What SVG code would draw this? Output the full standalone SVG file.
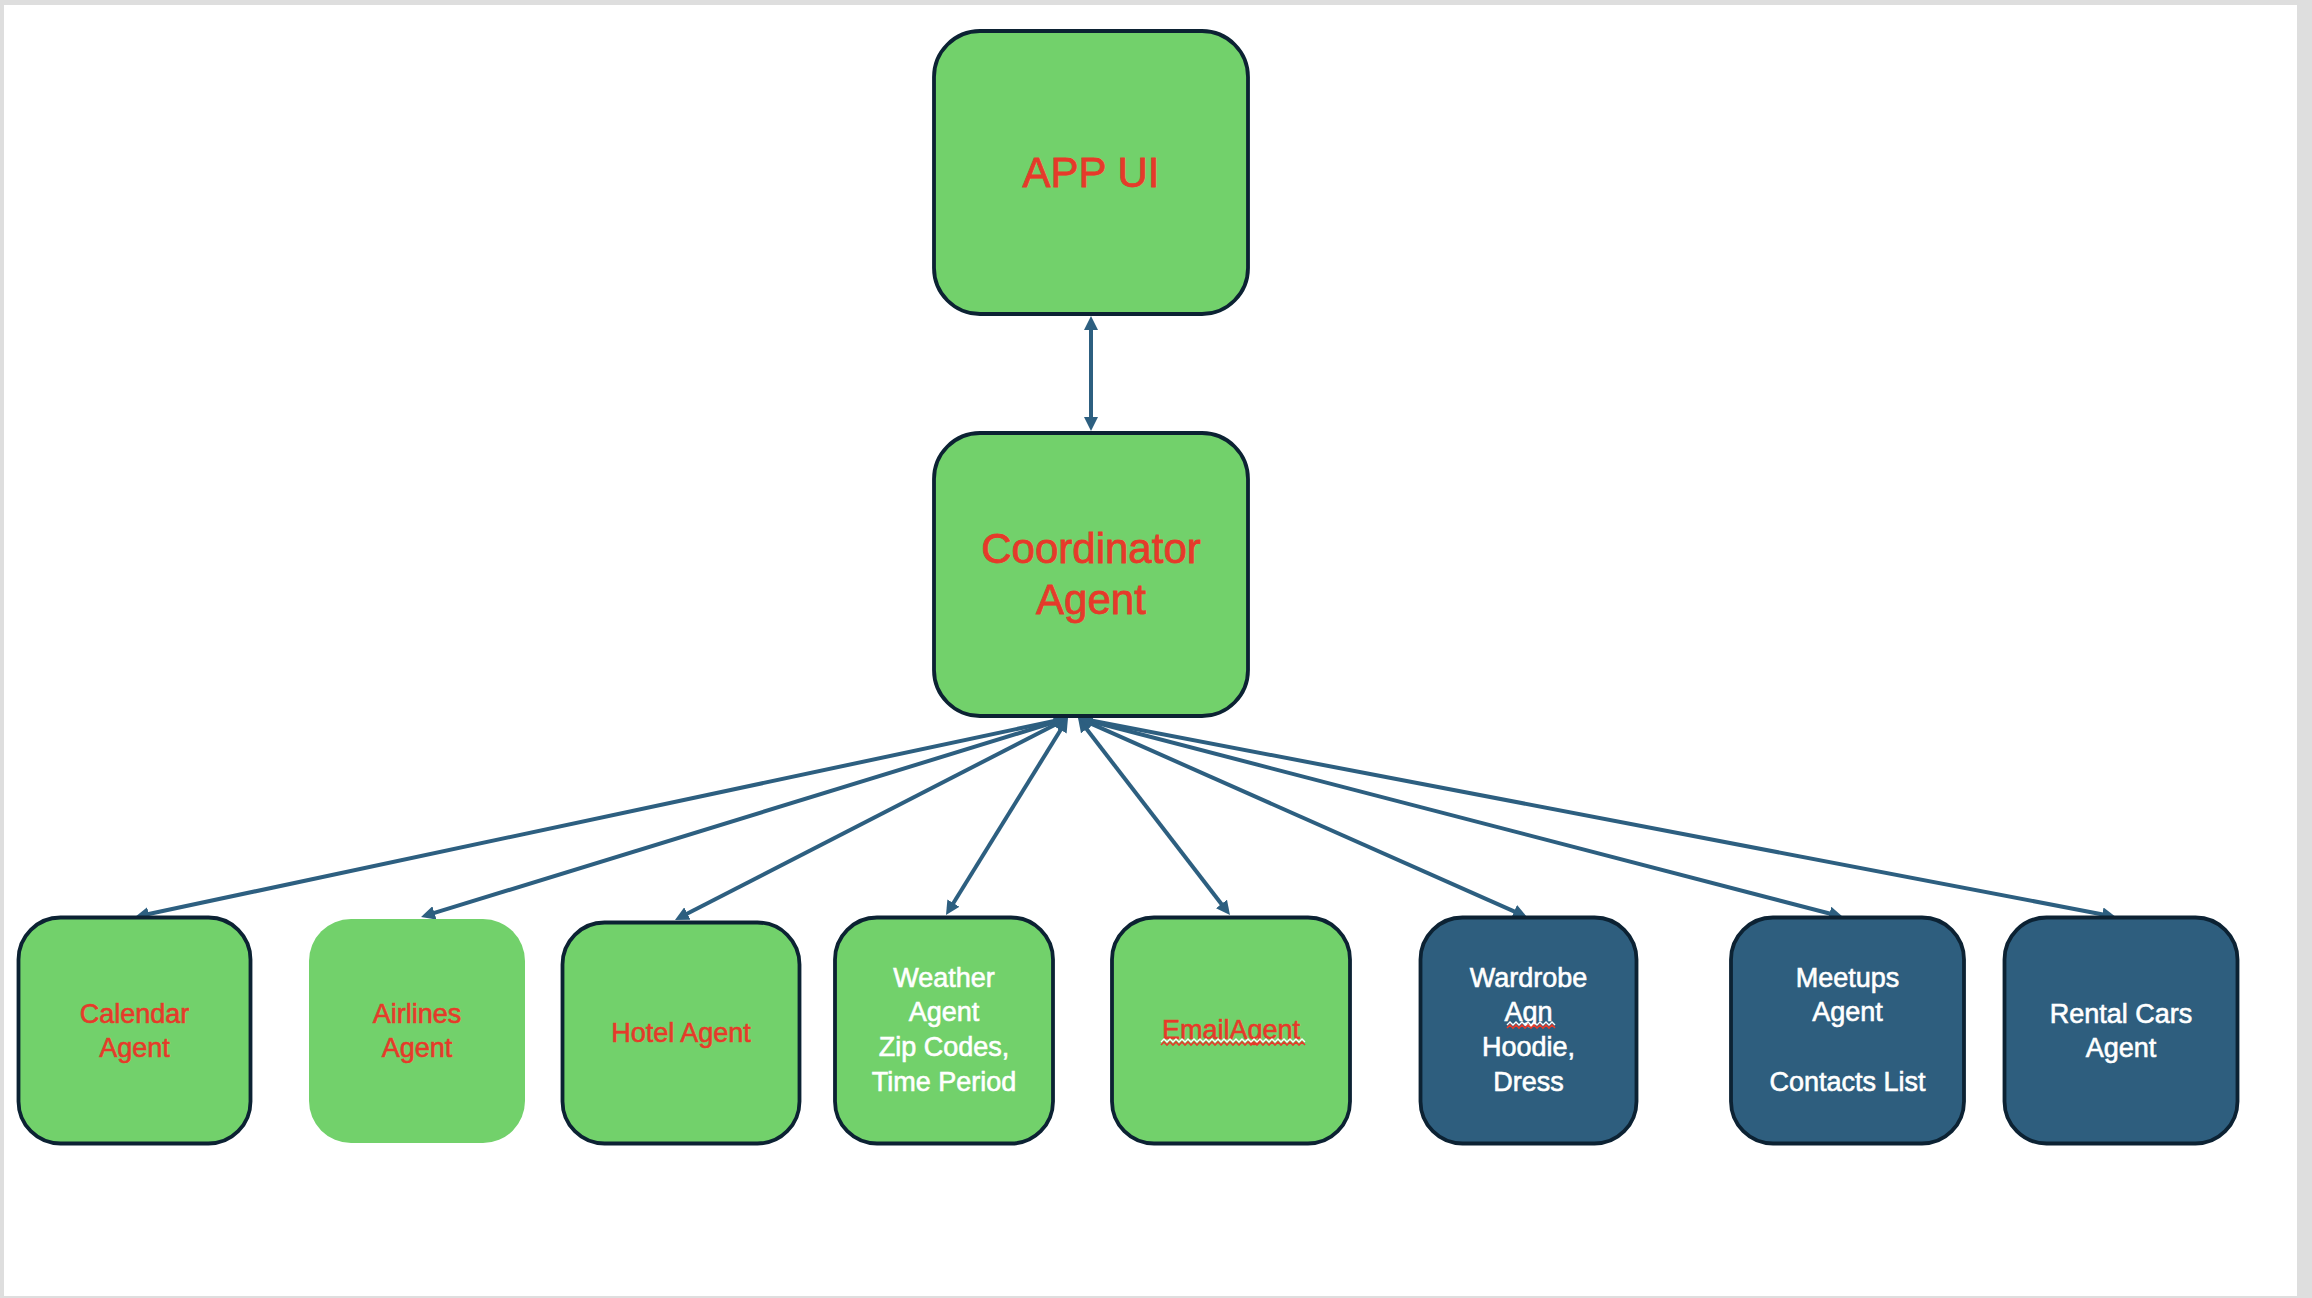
<svg xmlns="http://www.w3.org/2000/svg" width="2312" height="1298" viewBox="0 0 2312 1298">
<style>
.page{fill:#ffffff}
.g{fill:#72d16b;stroke:#0c2233;stroke-width:3.8}
.gn{fill:#72d16b;stroke:none}
.b{fill:#2e5e7e;stroke:#0c2233;stroke-width:3.8}
.t{font-family:"Liberation Sans",Arial,sans-serif;text-anchor:middle}
.big{font-size:42px;fill:#e63a2a;stroke:#e63a2a;stroke-width:0.8}
.red{font-size:27px;fill:#e63a2a;stroke:#e63a2a;stroke-width:0.6}
.wht{font-size:27px;fill:#ffffff;stroke:#ffffff;stroke-width:0.6}
.conn line{stroke:#2d5f80;stroke-width:4;fill:none;marker-start:url(#ah);marker-end:url(#ah)}
.sq{fill:none;stroke:#e63a2a;stroke-width:1.6}
.sqw{fill:none;stroke:#ffffff;stroke-width:1.4}
</style>
<defs>
<marker id="ah" markerUnits="userSpaceOnUse" viewBox="0 0 14 14" markerWidth="14" markerHeight="14" refX="6" refY="7" orient="auto-start-reverse">
<path d="M0,0 L14,7 L0,14 z" fill="#2d5f80"/>
</marker>
</defs>
<rect x="0" y="0" width="2312" height="1298" fill="#dedede"/>
<rect class="page" x="4" y="5" width="2293" height="1291"/>

<g id="connectors" class="conn">
<line x1="1091" y1="324" x2="1091" y2="423"/>
<line x1="1060.2" y1="719.7" x2="142.8" y2="915.3"/>
<line x1="1060.4" y1="720.4" x2="428.7" y2="914.7"/>
<line x1="1060.9" y1="721.7" x2="682.1" y2="916.3"/>
<line x1="1063.8" y1="724.8" x2="950.2" y2="908.2"/>
<line x1="1082.9" y1="724.3" x2="1225.1" y2="908.7"/>
<line x1="1085.3" y1="721.2" x2="1519.7" y2="913.8"/>
<line x1="1085.7" y1="720.0" x2="1835.3" y2="915.0"/>
<line x1="1085.9" y1="719.5" x2="2108.1" y2="915.5"/>
</g>

<g id="app-ui">
<rect class="g" x="934" y="31" width="314" height="283" rx="46"/>
<text class="t big" x="1091" y="187">APP UI</text>
</g>

<g id="coordinator-agent">
<rect class="g" x="934" y="433" width="314" height="283" rx="46"/>
<text class="t big" x="1091" y="563">Coordinator</text>
<text class="t big" x="1091" y="614">Agent</text>
</g>

<g id="calendar-agent">
<rect class="g" x="18.5" y="917.5" width="232" height="226" rx="42"/>
<text class="t red" x="134.5" y="1022.7">Calendar</text>
<text class="t red" x="134.5" y="1056.7">Agent</text>
</g>

<g id="airlines-agent">
<rect class="gn" x="309" y="919" width="216" height="224" rx="42"/>
<text class="t red" x="417" y="1022.7">Airlines</text>
<text class="t red" x="417" y="1056.7">Agent</text>
</g>

<g id="hotel-agent">
<rect class="g" x="562.5" y="922.5" width="237" height="221" rx="42"/>
<text class="t red" x="681" y="1041.7">Hotel Agent</text>
</g>

<g id="weather-agent">
<rect class="g" x="835" y="917.5" width="218" height="226" rx="42"/>
<text class="t wht" x="944" y="987.3">Weather</text>
<text class="t wht" x="944" y="1020.7">Agent</text>
<text class="t wht" x="944" y="1056">Zip Codes,</text>
<text class="t wht" x="944" y="1090.7">Time Period</text>
</g>

<g id="email-agent">
<rect class="g" x="1112" y="917.5" width="238" height="226" rx="42"/>
<text class="t red" x="1231" y="1039">EmailAgent</text>
<path class="sqw" d="M1161,1042 l3,-3 l3,3 l3,-3 l3,3 l3,-3 l3,3 l3,-3 l3,3 l3,-3 l3,3 l3,-3 l3,3 l3,-3 l3,3 l3,-3 l3,3 l3,-3 l3,3 l3,-3 l3,3 l3,-3 l3,3 l3,-3 l3,3 l3,-3 l3,3 l3,-3 l3,3 l3,-3 l3,3 l3,-3 l3,3 l3,-3 l3,3 l3,-3 l3,3 l3,-3 l3,3 l3,-3 l3,3 l3,-3 l3,3 l3,-3 l3,3 l3,-3 l3,3 l3,-3 l3,3"/>
<path class="sq" d="M1161,1045 l3,-3 l3,3 l3,-3 l3,3 l3,-3 l3,3 l3,-3 l3,3 l3,-3 l3,3 l3,-3 l3,3 l3,-3 l3,3 l3,-3 l3,3 l3,-3 l3,3 l3,-3 l3,3 l3,-3 l3,3 l3,-3 l3,3 l3,-3 l3,3 l3,-3 l3,3 l3,-3 l3,3 l3,-3 l3,3 l3,-3 l3,3 l3,-3 l3,3 l3,-3 l3,3 l3,-3 l3,3 l3,-3 l3,3 l3,-3 l3,3 l3,-3 l3,3 l3,-3 l3,3"/>
</g>

<g id="wardrobe-agent">
<rect class="b" x="1420.5" y="917.5" width="216" height="226" rx="42"/>
<text class="t wht" x="1528.5" y="987.3">Wardrobe</text>
<text class="t wht" x="1528.5" y="1020.7">Agn</text>
<path class="sqw" d="M1507,1025 l3,-3 l3,3 l3,-3 l3,3 l3,-3 l3,3 l3,-3 l3,3 l3,-3 l3,3 l3,-3 l3,3 l3,-3 l3,3 l3,-3 l3,3"/>
<path class="sq" d="M1507,1028 l3,-3 l3,3 l3,-3 l3,3 l3,-3 l3,3 l3,-3 l3,3 l3,-3 l3,3 l3,-3 l3,3 l3,-3 l3,3 l3,-3 l3,3"/>
<text class="t wht" x="1528.5" y="1056">Hoodie,</text>
<text class="t wht" x="1528.5" y="1090.7">Dress</text>
</g>

<g id="meetups-agent">
<rect class="b" x="1731" y="917.5" width="233" height="226" rx="42"/>
<text class="t wht" x="1847.5" y="987.3">Meetups</text>
<text class="t wht" x="1847.5" y="1020.7">Agent</text>
<text class="t wht" x="1847.5" y="1090.7">Contacts List</text>
</g>

<g id="rental-cars-agent">
<rect class="b" x="2004.5" y="917.5" width="233" height="226" rx="42"/>
<text class="t wht" x="2121" y="1022.7">Rental Cars</text>
<text class="t wht" x="2121" y="1056.7">Agent</text>
</g>
</svg>
